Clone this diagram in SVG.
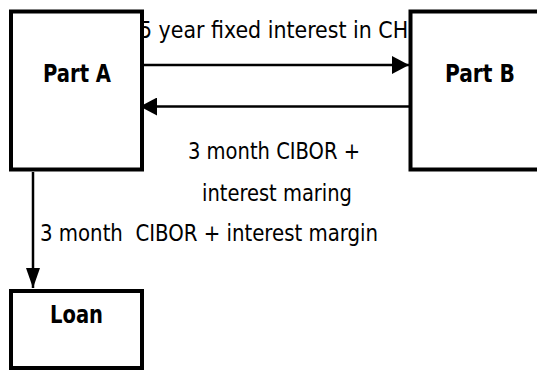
<svg xmlns="http://www.w3.org/2000/svg" width="537" height="371" viewBox="0 0 537 371">
<style>
.lbl{font-family:'DejaVu Sans Condensed','DejaVu Sans',sans-serif;font-stretch:condensed;font-size:23px;fill:#000;white-space:pre}
.ttl{font-family:'DejaVu Sans Condensed','DejaVu Sans',sans-serif;font-stretch:condensed;font-weight:bold;font-size:24.5px;fill:#000}
.box{fill:#fff;stroke:#000;stroke-width:4}
.edge{fill:none;stroke:#000;stroke-width:2.5}
</style>
<defs>
<marker id="ah" markerUnits="userSpaceOnUse" markerWidth="18" markerHeight="18" refX="17" refY="9" orient="auto"><path d="M0,0 L17,9 L0,18 z" fill="#000"/></marker>
<marker id="ahd" markerUnits="userSpaceOnUse" markerWidth="20" markerHeight="14" refX="20" refY="7" orient="auto"><path d="M0,0 L20,7 L0,14 z" fill="#000"/></marker>
</defs>
<g id="connectors">
<text class="lbl" x="139" y="38.3" textLength="281" lengthAdjust="spacingAndGlyphs">5 year fixed interest in CHF</text>
<path class="edge" d="M144,65 L409,65" marker-end="url(#ah)"/>
<path class="edge" d="M409,106.5 L140,106.5" marker-end="url(#ah)"/>
<text class="lbl" x="188" y="159" textLength="172" lengthAdjust="spacingAndGlyphs">3 month CIBOR +</text>
<text class="lbl" x="202" y="201" textLength="150" lengthAdjust="spacingAndGlyphs">interest maring</text>
<path class="edge" d="M33,172 L33,288" marker-end="url(#ahd)"/>
<text class="lbl" x="40" y="241" textLength="338" lengthAdjust="spacingAndGlyphs">3 month  CIBOR + interest margin</text>
</g>
<g id="partA">
<rect class="box" x="11" y="11.5" width="131" height="158"/>
<text class="ttl" x="43" y="81.7" textLength="68" lengthAdjust="spacingAndGlyphs">Part A</text>
</g>
<g id="partB">
<rect class="box" x="410.5" y="11.5" width="140" height="158"/>
<text class="ttl" x="445" y="81.7" textLength="70" lengthAdjust="spacingAndGlyphs">Part B</text>
</g>
<g id="loan">
<rect class="box" x="11" y="291" width="131" height="77"/>
<text class="ttl" x="50" y="323.3" textLength="53" lengthAdjust="spacingAndGlyphs">Loan</text>
</g>
</svg>
